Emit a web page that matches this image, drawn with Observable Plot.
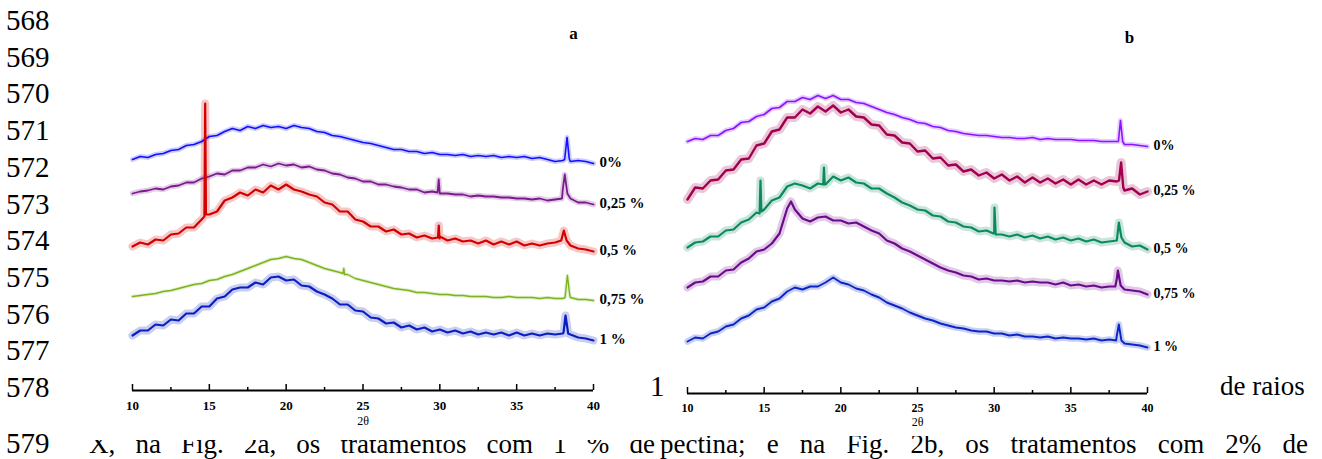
<!DOCTYPE html>
<html><head><meta charset="utf-8">
<script src="https://cdn.jsdelivr.net/npm/d3@7"></script>
<script src="https://cdn.jsdelivr.net/npm/@observablehq/plot@0.6"></script>
<style>
html,body{margin:0;padding:0;background:#fff;}
body{position:relative;width:1322px;height:459px;overflow:hidden;font-family:"Liberation Serif","Times New Roman",serif;color:#000;}
.num{position:absolute;left:6px;font-size:29px;line-height:28px;}
.txt{position:absolute;font-size:27px;line-height:28px;white-space:nowrap;}
.just{position:absolute;font-size:27px;line-height:28px;text-align:justify;text-align-last:justify;}
.chart{position:absolute;top:0;overflow:hidden;background:#fff;}
</style></head><body>
<div id="nums"></div>
<div class="txt" style="left:650px;top:372px;font-size:29px;">1</div>
<div class="txt" style="left:1220px;top:372px;">de raios</div>
<div class="just" style="left:89px;width:566px;top:430px;">X, na Fig. 2a, os tratamentos com 1 % de</div>
<div class="just" style="left:660px;width:648px;top:430px;">pectina; e na Fig. 2b, os tratamentos com 2% de</div>
<div id="chartA" class="chart" style="left:60px;width:590px;height:440px;"></div>
<div id="chartB" class="chart" style="left:665px;width:545px;height:436px;"></div>
<script>
// ---- document line numbers ----
const lineNumbers = [568,569,570,571,572,573,574,575,576,577,578,579];

// ---- x axis ----
const majorTicks = [10,15,20,25,30,35,40];
const minorTicks = [12.5,17.5,22.5,27.5,32.5,37.5];
const axisTitle = "2θ";

// ---- sampled 2θ positions ----
const theta = [10,10.5,11,11.5,12,12.5,13,13.5,14,14.5,
  15,15.5,16,16.5,17,17.5,18,18.5,19,19.5,
  20,20.5,21,21.5,22,22.5,23,23.5,24,24.5,
  25,25.5,26,26.5,27,27.5,28,28.5,29,29.5,
  30,30.5,31,31.5,32,32.5,33,33.5,34,34.5,
  35,35.5,36,36.5,37,37.5,38,38.5,39,39.5,40];

// ---- panel a (1 % pectin), intensities with vertical offsets (a.u.) ----
const namesA = ["0%","0,25 %","0,5 %","0,75 %","1 %"];
const colorsA = ["#1010ff","#7a1a8c","#d40000","#7db41e","#0b1fc0"];
const a0 = [231,234,233,236,237,240,241,245,246,249,
  254,255,259,262,260,264,262,265,263,264,
  262,265,263,262,259,258,255,254,252,250,
  248,247,245,243,241,241,239,239,237,238,
  236,236,235,236,234,235,234,235,233,234,
  233,234,232,233,231,229,230,229,230,229,227];
const a025 = [197,199,200,202,201,204,205,208,208,212,
  214,217,216,220,220,223,223,226,224,227,
  225,226,223,224,221,220,217,216,213,212,
  209,209,206,206,204,203,201,201,198,199,
  197,197,196,196,194,195,194,194,193,193,
  192,192,191,192,190,191,201,192,188,188,186];
const a05 = [144,148,146,151,150,156,157,163,163,171,
  176,179,190,193,198,195,201,198,205,201,
  206,201,199,196,194,188,186,179,179,171,
  169,164,164,159,161,156,157,153,155,152,
  154,150,152,149,150,147,150,146,149,146,
  149,145,147,145,147,148,156,145,142,141,139];
const a075 = [94,95,96,97,99,100,102,104,106,107,
  110,111,114,116,119,122,125,128,131,132,
  134,132,131,128,125,122,120,118,116,112,
  110,108,106,104,102,101,100,98,98,97,
  96,96,95,95,94,94,94,93,93,94,
  93,93,93,92,93,92,92,93,91,91,90];
const a1 = [55,60,60,66,65,71,70,77,77,84,
  84,92,94,101,103,103,108,106,113,114,
  110,111,105,104,99,96,92,86,86,80,
  79,73,72,67,68,63,65,61,63,59,
  61,58,60,57,59,56,58,56,58,55,
  58,55,57,55,57,56,57,56,53,52,50];
// sharp reflections [2θ, intensity]
const pa0 = [[38.12,231],[38.28,253],[38.42,232]];
const pa025 = [[29.85,198],[29.93,211],[29.99,198],[37.95,192],[38.13,216],[38.3,197]];
const pa05 = [[14.68,174],[14.73,287],[14.78,176],[29.88,153],[29.93,165],[29.98,152],[37.9,150],[38.07,160],[38.25,150]];
const pa075 = [[23.7,117],[23.75,122],[23.8,116],[38.15,93],[38.3,115],[38.45,96]];
const pa1 = [[38.05,58],[38.18,75],[38.35,57]];

// ---- panel b (2 % pectin) ----
const namesB = ["0%","0,25 %","0,5 %","0,75 %","1 %"];
const colorsB = ["#8a14ff","#a1004e","#0b8a5c","#6c0a8c","#0b25c6"];
const b0 = [252,255,254,258,258,263,265,271,272,277,
  279,285,286,292,292,296,294,298,295,298,
  294,294,291,290,287,284,281,279,276,274,
  271,270,267,266,263,262,260,259,258,258,
  257,256,256,255,255,256,254,255,254,254,
  254,253,253,253,252,252,252,249,249,248,247];
const b025 = [194,206,205,213,214,223,224,234,235,248,
  250,262,264,276,276,284,280,287,282,288,
  281,284,277,276,269,268,259,258,251,250,
  242,243,235,236,228,229,222,224,218,221,
  215,219,213,217,211,216,211,215,210,214,
  209,214,209,213,209,213,212,203,205,199,202];
const b05 = [146,151,152,157,157,163,164,171,174,181,
  184,193,196,207,210,208,205,210,209,217,
  213,216,211,210,205,205,200,196,191,188,
  184,183,178,177,172,171,167,166,162,163,
  160,159,157,159,156,158,155,157,154,156,
  153,155,152,154,151,152,153,151,147,148,144];
const b075 = [106,111,112,117,117,123,124,131,135,142,
  144,150,160,185,184,175,172,176,177,173,
  173,170,171,167,163,160,153,150,145,142,
  138,134,130,126,123,121,118,117,114,115,
  113,113,112,113,111,112,111,111,109,111,
  108,109,107,108,106,107,115,104,103,102,99];
const b1 = [52,56,55,60,62,67,69,75,78,84,
  86,92,95,102,106,104,107,107,111,116,
  111,109,105,103,99,96,91,88,85,81,
  78,75,73,70,68,66,65,63,62,62,
  60,60,58,59,57,57,56,57,55,56,
  55,55,54,55,53,54,58,50,49,48,46];
const pb0 = [[38.1,252],[38.24,273],[38.38,252]];
const pb025 = [[38.14,213],[38.28,231],[38.42,206]];
const pb05 = [[14.7,180],[14.76,213],[14.82,182],[18.85,209],[18.9,226],[18.95,209],[29.95,160],[30.02,186],[30.1,159],[38.13,171],[38.3,156]];
const pb075 = [[16.75,192],[37.9,107],[38.07,123],[38.25,108]];
const pb1 = [[37.95,53],[38.13,69],[38.3,53]];

// ---- line number layout ----
const numBaselines = [30,66.7,103.4,140.1,176.8,213.5,250.2,286.9,323.6,360.3,397,453];
const numsDiv = document.getElementById("nums");
lineNumbers.forEach((n, i) => {
  const d = document.createElement("div");
  d.className = "num";
  d.style.top = (numBaselines[i] - 24) + "px";
  d.textContent = String(n);
  numsDiv.appendChild(d);
});

function build(name, vals, peaks) {
  return theta.map((x, i) => ({x, y: vals[i], name}))
    .concat(peaks.map(([x, y]) => ({x, y, name})))
    .sort((p, q) => p.x - q.x);
}

function makeChart(cfg) {
  const last = cfg.series.map(s => s[s.length - 1]);
  const plotH = cfg.height - cfg.mb;
  const bands = cfg.series.map((s, i) =>
    Plot.line(s, {x: "x", y: "y", stroke: cfg.colors[i], strokeWidth: cfg.bandW[i], strokeOpacity: 0.22}));
  const lines = cfg.series.map((s, i) =>
    Plot.line(s, {x: "x", y: "y", stroke: cfg.colors[i], strokeWidth: cfg.lineW[i]}));
  return Plot.plot({
    width: cfg.width, height: cfg.height,
    marginLeft: cfg.ml, marginRight: cfg.mr, marginTop: 0, marginBottom: cfg.mb,
    x: {domain: [10, 40], axis: null},
    y: {domain: [0, plotH], axis: null},
    style: {background: "white", fontFamily: "Liberation Serif, Times New Roman, serif", color: "black"},
    marks: [
      ...bands,
      ...lines,
      Plot.ruleY([0], {stroke: "black", strokeWidth: 2}),
      Plot.ruleX(majorTicks, {x: d => d, y1: 0, y2: 6, stroke: "black", strokeWidth: 1.5}),
      Plot.ruleX(minorTicks, {x: d => d, y1: 0, y2: 3, stroke: "black", strokeWidth: 1.5}),
      Plot.text(majorTicks, {x: d => d, frameAnchor: "bottom", lineAnchor: "middle", dy: 15, text: d => String(d), fontWeight: "bold", fontSize: cfg.tickFont, fill: "black"}),
      Plot.text([axisTitle], {frameAnchor: "bottom", lineAnchor: "middle", textAnchor: "middle", dy: cfg.titleDy, text: d => d, fontSize: 12, fill: "black"}),
      Plot.text([cfg.panel], {frameAnchor: "top-right", lineAnchor: "middle", textAnchor: "middle", dx: cfg.panelDx, dy: cfg.panelDy, text: d => d, fontWeight: "bold", fontSize: 17, fill: "black"}),
      Plot.text(last, {x: "x", y: "y", text: "name", textAnchor: "start", lineAnchor: "middle", dx: cfg.labelDx, dy: -1, fontWeight: "bold", fontSize: cfg.labelFont, fill: "black"})
    ]
  });
}

const seriesA = [build(namesA[0], a0, pa0), build(namesA[1], a025, pa025), build(namesA[2], a05, pa05), build(namesA[3], a075, pa075), build(namesA[4], a1, pa1)];
const seriesB = [build(namesB[0], b0, pb0), build(namesB[1], b025, pb025), build(namesB[2], b05, pb05), build(namesB[3], b075, pb075), build(namesB[4], b1, pb1)];

document.getElementById("chartA").appendChild(makeChart({
  series: seriesA, colors: colorsA, bandW: [5, 5.5, 8, 3.5, 8], lineW: [1.6, 1.8, 2.2, 1.4, 2.2],
  width: 590, height: 440, ml: 72, mr: 57, mb: 50,
  tickFont: 13, labelFont: 15, labelDx: 6, titleDy: 31,
  panel: "a", panelDx: -20, panelDy: 33
}));
document.getElementById("chartB").appendChild(makeChart({
  series: seriesB, colors: colorsB, bandW: [5, 9, 8, 8, 6.5], lineW: [1.6, 2.4, 2.2, 2.2, 1.9],
  width: 545, height: 436, ml: 22, mr: 63, mb: 43,
  tickFont: 12, labelFont: 14, labelDx: 6, titleDy: 29,
  panel: "b", panelDx: -18, panelDy: 37
}));
</script>
</body></html>
